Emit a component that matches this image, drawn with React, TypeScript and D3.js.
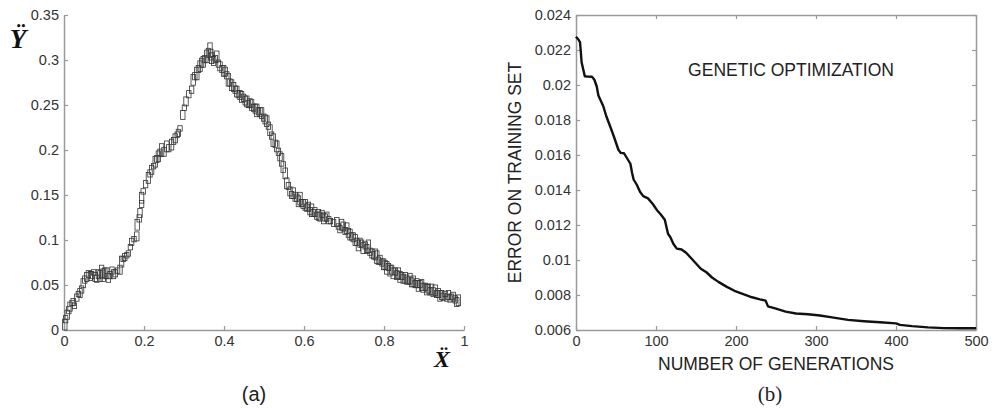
import { useRef, useEffect } from 'react';
import * as d3 from 'd3';

// panel (a): measured points [x, y, spread]
const scatterPoints: [number, number, number][] = [
  [0.002, 0.006, 0.006], [0.004, 0.012, 0.004], [0.008, 0.017, 0.005], [0.012, 0.022, 0.004],
  [0.015, 0.026, 0.005], [0.02, 0.03, 0.003], [0.023, 0.031, 0.004], [0.026, 0.027, 0.003],
  [0.032, 0.036, 0.004], [0.036, 0.04, 0.003], [0.04, 0.041, 0.005], [0.044, 0.045, 0.004],
  [0.048, 0.052, 0.005], [0.052, 0.056, 0.004], [0.057, 0.059, 0.005], [0.061, 0.062, 0.004],
  [0.066, 0.06, 0.005], [0.069, 0.061, 0.004], [0.074, 0.064, 0.003], [0.078, 0.059, 0.005],
  [0.082, 0.057, 0.004], [0.086, 0.062, 0.005], [0.09, 0.06, 0.006], [0.094, 0.065, 0.007],
  [0.098, 0.061, 0.007], [0.102, 0.063, 0.006], [0.107, 0.063, 0.006], [0.111, 0.058, 0.005],
  [0.115, 0.061, 0.004], [0.12, 0.066, 0.004], [0.124, 0.062, 0.005], [0.128, 0.063, 0.004],
  [0.134, 0.066, 0.003], [0.14, 0.067, 0.005], [0.144, 0.076, 0.006], [0.148, 0.079, 0.003],
  [0.152, 0.081, 0.004], [0.157, 0.083, 0.003], [0.161, 0.085, 0.003], [0.166, 0.092, 0.003],
  [0.169, 0.098, 0.004], [0.175, 0.101, 0.003], [0.182, 0.104, 0.005], [0.183, 0.117, 0.006],
  [0.188, 0.124, 0.004], [0.19, 0.13, 0.005], [0.194, 0.14, 0.004], [0.194, 0.147, 0.006],
  [0.198, 0.154, 0.003], [0.204, 0.162, 0.004], [0.211, 0.169, 0.006], [0.215, 0.174, 0.004],
  [0.219, 0.178, 0.005], [0.224, 0.182, 0.003], [0.228, 0.187, 0.006], [0.232, 0.19, 0.004],
  [0.236, 0.193, 0.006], [0.24, 0.197, 0.004], [0.244, 0.2, 0.007], [0.25, 0.198, 0.005],
  [0.257, 0.204, 0.006], [0.262, 0.202, 0.004], [0.269, 0.206, 0.006], [0.274, 0.21, 0.004],
  [0.278, 0.213, 0.005], [0.283, 0.217, 0.003], [0.286, 0.219, 0.004], [0.29, 0.224, 0.003],
  [0.297, 0.239, 0.005], [0.301, 0.247, 0.003], [0.305, 0.254, 0.005], [0.312, 0.262, 0.004],
  [0.319, 0.267, 0.004], [0.323, 0.278, 0.006], [0.327, 0.282, 0.004], [0.332, 0.285, 0.007],
  [0.336, 0.29, 0.004], [0.34, 0.293, 0.006], [0.344, 0.297, 0.005], [0.348, 0.298, 0.006],
  [0.352, 0.301, 0.004], [0.357, 0.304, 0.007], [0.361, 0.308, 0.005], [0.365, 0.311, 0.008],
  [0.367, 0.306, 0.006], [0.369, 0.302, 0.006], [0.374, 0.299, 0.005], [0.378, 0.301, 0.004],
  [0.382, 0.304, 0.006], [0.386, 0.296, 0.004], [0.39, 0.293, 0.005], [0.395, 0.29, 0.004],
  [0.399, 0.288, 0.006], [0.403, 0.287, 0.005], [0.407, 0.283, 0.004], [0.411, 0.278, 0.007],
  [0.415, 0.275, 0.004], [0.419, 0.272, 0.006], [0.424, 0.27, 0.005], [0.428, 0.267, 0.004],
  [0.432, 0.265, 0.006], [0.436, 0.262, 0.004], [0.44, 0.261, 0.005], [0.444, 0.259, 0.006],
  [0.449, 0.258, 0.004], [0.453, 0.255, 0.005], [0.457, 0.254, 0.006], [0.461, 0.251, 0.004],
  [0.465, 0.252, 0.005], [0.469, 0.25, 0.006], [0.474, 0.247, 0.004], [0.478, 0.246, 0.005],
  [0.482, 0.244, 0.007], [0.486, 0.243, 0.004], [0.49, 0.242, 0.005], [0.494, 0.241, 0.006],
  [0.499, 0.236, 0.004], [0.503, 0.234, 0.005], [0.507, 0.232, 0.006], [0.511, 0.227, 0.004],
  [0.515, 0.222, 0.006], [0.519, 0.216, 0.004], [0.523, 0.211, 0.007], [0.528, 0.207, 0.004],
  [0.532, 0.204, 0.006], [0.536, 0.198, 0.004], [0.54, 0.193, 0.005], [0.544, 0.189, 0.007],
  [0.548, 0.181, 0.006], [0.553, 0.174, 0.006], [0.557, 0.163, 0.006], [0.561, 0.16, 0.004],
  [0.565, 0.154, 0.005], [0.569, 0.15, 0.004], [0.573, 0.152, 0.006], [0.578, 0.148, 0.005],
  [0.582, 0.147, 0.004], [0.586, 0.143, 0.006], [0.59, 0.146, 0.007], [0.594, 0.141, 0.004],
  [0.598, 0.14, 0.005], [0.603, 0.139, 0.006], [0.607, 0.136, 0.004], [0.611, 0.137, 0.005],
  [0.615, 0.132, 0.004], [0.619, 0.133, 0.007], [0.623, 0.13, 0.004], [0.627, 0.131, 0.005],
  [0.632, 0.127, 0.004], [0.636, 0.128, 0.006], [0.64, 0.126, 0.005], [0.645, 0.129, 0.004],
  [0.649, 0.124, 0.006], [0.653, 0.125, 0.004], [0.657, 0.126, 0.005], [0.662, 0.122, 0.004],
  [0.666, 0.121, 0.003], [0.674, 0.119, 0.004], [0.682, 0.12, 0.005], [0.686, 0.115, 0.003],
  [0.69, 0.112, 0.004], [0.694, 0.117, 0.006], [0.698, 0.115, 0.005], [0.703, 0.11, 0.004],
  [0.707, 0.113, 0.006], [0.711, 0.108, 0.005], [0.715, 0.106, 0.006], [0.719, 0.104, 0.004],
  [0.723, 0.103, 0.005], [0.728, 0.1, 0.006], [0.732, 0.098, 0.004], [0.736, 0.094, 0.006],
  [0.74, 0.097, 0.005], [0.744, 0.096, 0.004], [0.748, 0.091, 0.006], [0.753, 0.094, 0.004],
  [0.757, 0.09, 0.005], [0.761, 0.093, 0.007], [0.765, 0.087, 0.004], [0.77, 0.085, 0.005],
  [0.774, 0.083, 0.004], [0.778, 0.084, 0.006], [0.782, 0.081, 0.007], [0.786, 0.077, 0.004],
  [0.79, 0.078, 0.005], [0.795, 0.075, 0.004], [0.799, 0.073, 0.006], [0.803, 0.072, 0.005],
  [0.807, 0.069, 0.007], [0.811, 0.07, 0.004], [0.815, 0.066, 0.006], [0.819, 0.067, 0.005],
  [0.823, 0.063, 0.006], [0.828, 0.065, 0.004], [0.832, 0.061, 0.005], [0.836, 0.063, 0.006],
  [0.84, 0.059, 0.006], [0.844, 0.06, 0.004], [0.848, 0.057, 0.005], [0.853, 0.058, 0.006],
  [0.857, 0.056, 0.005], [0.861, 0.055, 0.004], [0.865, 0.057, 0.006], [0.869, 0.053, 0.005],
  [0.873, 0.054, 0.006], [0.878, 0.051, 0.004], [0.882, 0.052, 0.005], [0.886, 0.049, 0.006],
  [0.89, 0.051, 0.004], [0.894, 0.05, 0.006], [0.898, 0.047, 0.005], [0.903, 0.048, 0.004],
  [0.907, 0.045, 0.006], [0.911, 0.046, 0.005], [0.915, 0.043, 0.004], [0.919, 0.045, 0.006],
  [0.923, 0.042, 0.005], [0.928, 0.044, 0.006], [0.932, 0.04, 0.004], [0.936, 0.041, 0.005],
  [0.94, 0.038, 0.006], [0.944, 0.039, 0.005], [0.948, 0.037, 0.004], [0.953, 0.04, 0.003],
  [0.957, 0.036, 0.004], [0.961, 0.039, 0.005], [0.965, 0.035, 0.004], [0.969, 0.037, 0.003],
  [0.973, 0.037, 0.005], [0.978, 0.034, 0.004], [0.982, 0.031, 0.005], [0.986, 0.033, 0.006],
];
const xTicksA = [0, 0.2, 0.4, 0.6, 0.8, 1];
const yTicksA = [0, 0.05, 0.1, 0.15, 0.2, 0.25, 0.3, 0.35];

// panel (b): training error vs generation
const generations = [0, 3, 5, 6, 7, 9, 11, 15, 20, 23, 26, 28, 31, 34, 38, 43, 47, 50, 53, 56, 60, 64,
  68, 70, 72, 76, 80, 84, 90, 96, 101, 106, 111, 113, 115, 118, 122, 126, 132, 138, 144, 150, 156,
  163, 170, 178, 188, 198, 210, 220, 230, 237, 240, 250, 262, 275, 290, 305, 320, 340, 360, 380,
  400, 405, 420, 440, 460, 480, 500];
const trainError = [0.02276, 0.0226, 0.02245, 0.0219, 0.0213, 0.0209, 0.0205, 0.02048, 0.02047,
  0.0203, 0.0199, 0.0194, 0.0191, 0.0188, 0.0182, 0.0176, 0.0171, 0.0167, 0.0163, 0.01612, 0.0161,
  0.0158, 0.0155, 0.015, 0.0146, 0.0143, 0.0139, 0.01365, 0.01352, 0.0132, 0.01286, 0.0126, 0.0123,
  0.0119, 0.0115, 0.0113, 0.0109, 0.01065, 0.0106, 0.0104, 0.0101, 0.0098, 0.0095, 0.0093, 0.009,
  0.00875, 0.00848, 0.00824, 0.00803, 0.00787, 0.00775, 0.00768, 0.00735, 0.00722, 0.00705, 0.00694,
  0.0069, 0.00683, 0.00672, 0.00658, 0.0065, 0.00644, 0.00638, 0.00629, 0.00622, 0.00615, 0.00611,
  0.0061, 0.0061];
const xTicksB = [0, 100, 200, 300, 400, 500];
const yTicksB = [0.006, 0.008, 0.01, 0.012, 0.014, 0.016, 0.018, 0.02, 0.022, 0.024];

const W = 997;
const H = 409;
const AXIS = '#9a9a9a';
const TXT = '#333';
const SANS = 'Liberation Sans, Arial, sans-serif';
const SERIF = 'Liberation Serif, DejaVu Serif, Times New Roman, serif';

const fmt = (p: number) => (d: d3.NumberValue) => String(+(+d).toFixed(p));

const App = () => {
  const svgRef = useRef<SVGSVGElement | null>(null);

  useEffect(() => {
    const svg = d3.select(svgRef.current);
    svg.selectAll('*').remove();

    const styleAxis = (g: d3.Selection<SVGGElement, unknown, null, undefined>) => {
      g.select('.domain').attr('stroke', AXIS).attr('stroke-width', 1.5);
      g.selectAll('.tick line').attr('stroke', AXIS).attr('stroke-width', 1.2);
      g.selectAll('.tick text').attr('fill', TXT).attr('font-size', 14.5).attr('font-family', SANS);
    };

    // ---------- panel (a) ----------
    const xA = d3.scaleLinear().domain([0, 1]).range([64, 464]);
    const yA = d3.scaleLinear().domain([0, 0.35]).range([330, 15]);

    const ga = svg.append('g');
    ga.append('g')
      .attr('transform', `translate(0,${yA(0)})`)
      .call(d3.axisBottom(xA).tickValues(xTicksA).tickSizeInner(-4).tickSizeOuter(0).tickPadding(6).tickFormat(fmt(1)))
      .call(styleAxis);
    ga.append('g')
      .attr('transform', `translate(${xA(0)},0)`)
      .call(d3.axisLeft(yA).tickValues(yTicksA).tickSizeInner(-4).tickSizeOuter(0).tickPadding(5).tickFormat(fmt(2)))
      .call(styleAxis);

    ga.append('g')
      .selectAll('rect')
      .data(scatterPoints)
      .join('rect')
      .attr('x', (d) => xA(d[0]) - 2.2)
      .attr('width', 4.4)
      .attr('y', (d) => yA(d[1] + d[2]))
      .attr('height', (d) => yA(d[1] - d[2]) - yA(d[1] + d[2]))
      .attr('fill', 'none')
      .attr('stroke', '#333')
      .attr('stroke-width', 0.8);

    ga.append('text')
      .attr('x', 18).attr('y', 48)
      .attr('text-anchor', 'middle')
      .attr('font-family', SERIF).attr('font-style', 'italic').attr('font-weight', 'bold').attr('font-size', 27)
      .attr('fill', '#111')
      .text('Ÿ');
    ga.append('text')
      .attr('x', 442).attr('y', 367)
      .attr('text-anchor', 'middle')
      .attr('font-family', SERIF).attr('font-style', 'italic').attr('font-weight', 'bold').attr('font-size', 24)
      .attr('fill', '#111')
      .text('Ẍ');
    ga.append('text')
      .attr('x', 254).attr('y', 401)
      .attr('text-anchor', 'middle')
      .attr('font-family', SANS).attr('font-size', 20)
      .attr('fill', '#222')
      .text('(a)');

    // ---------- panel (b) ----------
    const xB = d3.scaleLinear().domain([0, 500]).range([576, 976]);
    const yB = d3.scaleLinear().domain([0.006, 0.024]).range([330, 15]);

    const gb = svg.append('g');
    gb.append('g')
      .attr('transform', `translate(0,${yB(0.006)})`)
      .call(d3.axisBottom(xB).tickValues(xTicksB).tickSizeInner(-4).tickSizeOuter(0).tickPadding(6).tickFormat(fmt(0)))
      .call(styleAxis);
    gb.append('g')
      .attr('transform', `translate(${xB(0)},0)`)
      .call(d3.axisLeft(yB).tickValues(yTicksB).tickSizeInner(-4).tickSizeOuter(0).tickPadding(5).tickFormat(fmt(3)))
      .call(styleAxis);
    gb.append('g')
      .attr('transform', `translate(0,${yB(0.024)})`)
      .call(d3.axisTop(xB).tickValues(xTicksB).tickSizeInner(-4).tickSizeOuter(0).tickFormat(() => ''))
      .call(styleAxis);
    gb.append('g')
      .attr('transform', `translate(${xB(500)},0)`)
      .call(d3.axisRight(yB).tickValues(yTicksB).tickSizeInner(-4).tickSizeOuter(0).tickFormat(() => ''))
      .call(styleAxis);

    const line = d3.line<number>()
      .x((_, i) => xB(generations[i]))
      .y((d) => yB(d));
    gb.append('path')
      .datum(trainError)
      .attr('d', line)
      .attr('fill', 'none')
      .attr('stroke', '#111')
      .attr('stroke-width', 2.4)
      .attr('stroke-linejoin', 'round');

    gb.append('text')
      .attr('x', 791).attr('y', 76)
      .attr('text-anchor', 'middle')
      .attr('font-family', SANS).attr('font-size', 17.5)
      .attr('fill', '#222')
      .text('GENETIC OPTIMIZATION');
    gb.append('text')
      .attr('x', 776).attr('y', 370)
      .attr('text-anchor', 'middle')
      .attr('font-family', SANS).attr('font-size', 17.5)
      .attr('fill', '#222')
      .text('NUMBER OF GENERATIONS');
    gb.append('text')
      .attr('transform', `translate(521,${(yB(0.006) + yB(0.024)) / 2}) rotate(-90)`)
      .attr('text-anchor', 'middle')
      .attr('font-family', SANS).attr('font-size', 17.5)
      .attr('fill', '#222')
      .text('ERROR ON TRAINING SET');
    gb.append('text')
      .attr('x', 770).attr('y', 401)
      .attr('text-anchor', 'middle')
      .attr('font-family', SERIF).attr('font-size', 21)
      .attr('fill', '#222')
      .text('(b)');
  }, []);

  return (
    <svg
      ref={svgRef}
      width={W}
      height={H}
      style={{ position: 'absolute', left: 0, top: 0, background: '#fff' }}
    />
  );
};

export default App;
